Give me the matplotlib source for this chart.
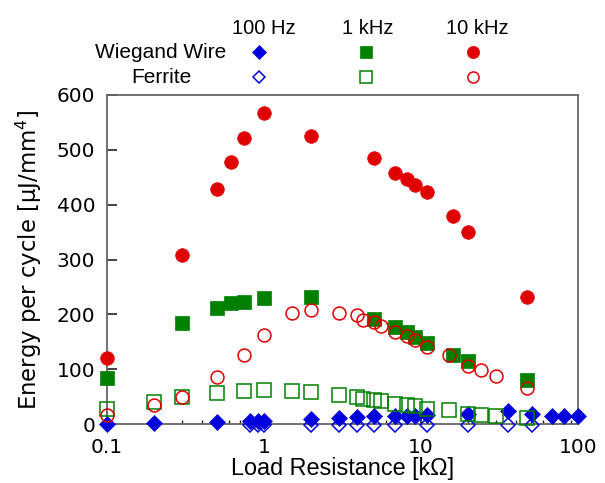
import numpy as np
import matplotlib
matplotlib.use("Agg")
import matplotlib.pyplot as plt
from matplotlib.ticker import FuncFormatter, NullFormatter, LogLocator

plt.rcParams['font.family'] = ['Liberation Sans', 'DejaVu Sans']
plt.rcParams['mathtext.fontset'] = 'dejavusans'

# -----------------------------
# data (load resistance in kOhm, energy in uJ/mm^4)
# -----------------------------
r_ww_100 = [0.1, 0.2, 0.5, 0.82, 0.91, 1.0, 2, 3, 3.9, 5, 6.8, 8.2, 9.1, 11, 20, 36, 51, 68, 82, 100]
e_ww_100 = [0, 1.5, 3, 5, 5, 5, 9.5, 10.6, 12.4, 14.3, 15.5, 15.5, 15.5, 16.7, 18.6, 22.8, 18.6, 15.5, 15.5, 15.5]

r_fe_100 = [0.82, 0.91, 1.0, 2, 3, 3.9, 5, 6.8, 11, 20, 36, 51]
e_fe_100 = [-1, -1, -1, -1, -1, -1, -1, -1, -1, -1, -1, -1]

r_ww_1k = [0.1, 0.3, 0.5, 0.62, 0.75, 1.0, 2, 5, 6.8, 8.2, 9.1, 11, 16, 20, 47]
e_ww_1k = [84, 185, 212, 221, 223, 229, 232, 191, 176, 168, 158, 148, 125, 115, 81]

r_fe_1k = [0.1, 0.2, 0.3, 0.5, 0.75, 1.0, 1.5, 2, 3, 3.9, 4.3, 5, 5.6, 6.8, 8.2, 9.1, 11, 15, 20, 24, 30, 47]
e_fe_1k = [28, 41, 50, 57, 61, 62, 60, 58, 52, 49, 45, 43, 42, 37, 34, 32, 28, 25, 19, 17, 15, 11]

r_ww_10k = [0.1, 0.3, 0.5, 0.62, 0.75, 1.0, 2, 5, 6.8, 8.2, 9.1, 11, 16, 20, 47]
e_ww_10k = [121, 308, 428, 478, 521, 567, 525, 485, 457, 446, 435, 423, 379, 350, 231]

r_fe_10k = [0.1, 0.2, 0.3, 0.5, 0.75, 1.0, 1.5, 2, 3, 3.9, 4.3, 5, 5.6, 6.8, 8.2, 9.1, 11, 15, 20, 24, 30, 47]
e_fe_10k = [17, 34, 50, 86, 126, 162, 202, 207, 202, 199, 190, 186, 179, 168, 160, 153, 140, 125, 106, 99, 87, 66]

freq_labels = ['100 Hz', '1 kHz', '10 kHz']
row_labels = ['Wiegand Wire', 'Ferrite']

blue = '#0000DD'
green = '#008000'
red = '#E00000'

# marker styles: (marker, size in plot, size in legend, color, filled)
styles = {
    'ww_100': ('D', 8.2, 7.6, blue, True),
    'fe_100': ('D', 7.4, 6.6, blue, False),
    'ww_1k': ('s', 10, 8.8, green, True),
    'fe_1k': ('s', 9.5, 8.5, green, False),
    'ww_10k': ('o', 9.8, 8.8, red, True),
    'fe_10k': ('o', 9.3, 8.0, red, False),
}

series = [
    ('ww_100', r_ww_100, e_ww_100),
    ('fe_100', r_fe_100, e_fe_100),
    ('ww_1k', r_ww_1k, e_ww_1k),
    ('fe_1k', r_fe_1k, e_fe_1k),
    ('ww_10k', r_ww_10k, e_ww_10k),
    ('fe_10k', r_fe_10k, e_fe_10k),
]


def mk_kw(key, legend=False):
    m, s, s_leg, c, filled = styles[key]
    kw = dict(marker=m, markersize=s_leg if legend else s, linestyle='none',
              markeredgecolor=c, markeredgewidth=1.1)
    kw['markerfacecolor'] = c if filled else 'none'
    if filled:
        kw['markeredgewidth'] = 0.5
    return kw


# -----------------------------
# figure
# -----------------------------
fig = plt.figure(figsize=(6.05, 4.83), dpi=100)
ax = fig.add_axes([107 / 605, 1 - 424 / 483, 471 / 605, 329 / 483])

for key, r, e in series:
    ax.plot(r, e, clip_on=False, zorder=3, **mk_kw(key))

ax.set_xscale('log')
ax.set_xlim(0.1, 100)
ax.set_ylim(0, 600)
ax.set_yticks(np.arange(0, 601, 100))
ax.xaxis.set_major_formatter(FuncFormatter(lambda v, p: '%g' % v))
ax.xaxis.set_minor_locator(LogLocator(base=10, subs=np.arange(2, 10)))
ax.xaxis.set_minor_formatter(NullFormatter())

for sp in ax.spines.values():
    sp.set_color('#666666')
    sp.set_linewidth(1.3)

ax.tick_params(axis='y', which='major', direction='in', length=7, width=1.2,
               color='#222222', pad=8.5, right=False)
ax.tick_params(axis='x', which='major', direction='in', length=7, width=1.2,
               color='#222222', pad=10, top=False)
ax.tick_params(axis='x', which='minor', direction='in', length=3, width=1.0,
               color='#222222', top=False)
for lab in ax.get_xticklabels() + ax.get_yticklabels():
    lab.set_fontfamily('DejaVu Sans')
    lab.set_fontsize(14.5)

ax.set_xlabel('Load Resistance [k\u03a9]', fontsize=16.8, labelpad=0)
ax.set_ylabel('Energy per cycle [\u03bcJ/mm$^4$]', fontsize=16.4,
              family='DejaVu Sans', labelpad=9)

# -----------------------------
# legend grid above the axes
# -----------------------------
lax = fig.add_axes([0, 0, 1, 1])
lax.set_xlim(0, 605)
lax.set_ylim(483, 0)
lax.axis('off')
lax.patch.set_alpha(0)

col_x = [264, 368, 477]
for x, lab in zip(col_x, freq_labels):
    lax.text(x, 33.5, lab, ha='center', va='baseline', fontsize=14.5)

label_y = [58.5, 83]
for y, lab in zip(label_y, row_labels):
    lax.text(161, y, lab, ha='center', va='baseline', fontsize=15)

grid = [['ww_100', 'ww_1k', 'ww_10k'], ['fe_100', 'fe_1k', 'fe_10k']]
for y, keys in zip([52, 77], grid):
    for x, key in zip([259, 366, 473], keys):
        lax.plot([x], [y], **mk_kw(key, legend=True))

fig.savefig('out.png', dpi=100)
